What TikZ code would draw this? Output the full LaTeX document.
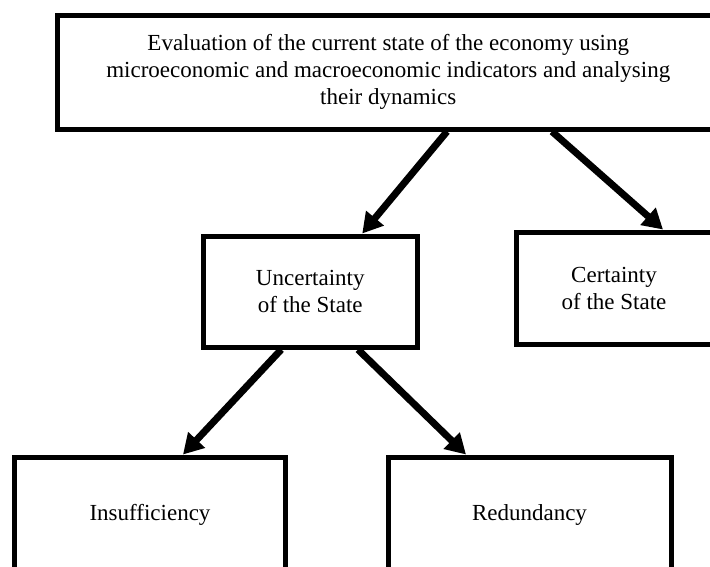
\documentclass[tikz,border=0pt]{standalone}
\usepackage{fontspec}
\setmainfont{Liberation Serif}
\usetikzlibrary{arrows.meta}
\tikzset{
  box/.style={draw=black, line width=5pt, fill=white, rectangle, align=center,
    font=\fontsize{23}{27}\selectfont, inner sep=0pt},
  link/.style={line width=7pt, -{Triangle[length=20pt,width=22pt]}}
}
\begin{document}
\begin{tikzpicture}[x=1pt,y=-1pt]
\useasboundingbox (0,0) rectangle (710,566);
\clip (0,0) rectangle (710,566);
\fill[white] (0,0) rectangle (710,566);
\node[box, minimum width=661.5pt, minimum height=114pt] (top) at (388.25,72)
  {Evaluation of the current state of the economy using\\
   microeconomic and macroeconomic indicators and analysing\\
   their dynamics};
\node[box, minimum width=213.5pt, minimum height=111pt] (unc) at (310.25,291.5)
  {Uncertainty\\of the State};
\node[box, minimum width=196pt, minimum height=112pt] (cert) at (614,288)
  {Certainty\\of the State};
\node[box, minimum width=271pt, minimum height=116pt] (insuf) at (150,515)
  {Insufficiency};
\node[box, minimum width=283pt, minimum height=116pt] (red) at (529.5,515)
  {Redundancy};
\draw[link] ([xshift=58.75pt]top.south) -- ([xshift=52pt]unc.north);
\draw[link] ([xshift=163.75pt]top.south) -- ([xshift=49pt]cert.north);
\draw[link] ([xshift=-29pt]unc.south) -- ([xshift=33pt]insuf.north);
\draw[link] ([xshift=47.75pt]unc.south) -- ([xshift=-63.5pt]red.north);
\end{tikzpicture}
\end{document}
